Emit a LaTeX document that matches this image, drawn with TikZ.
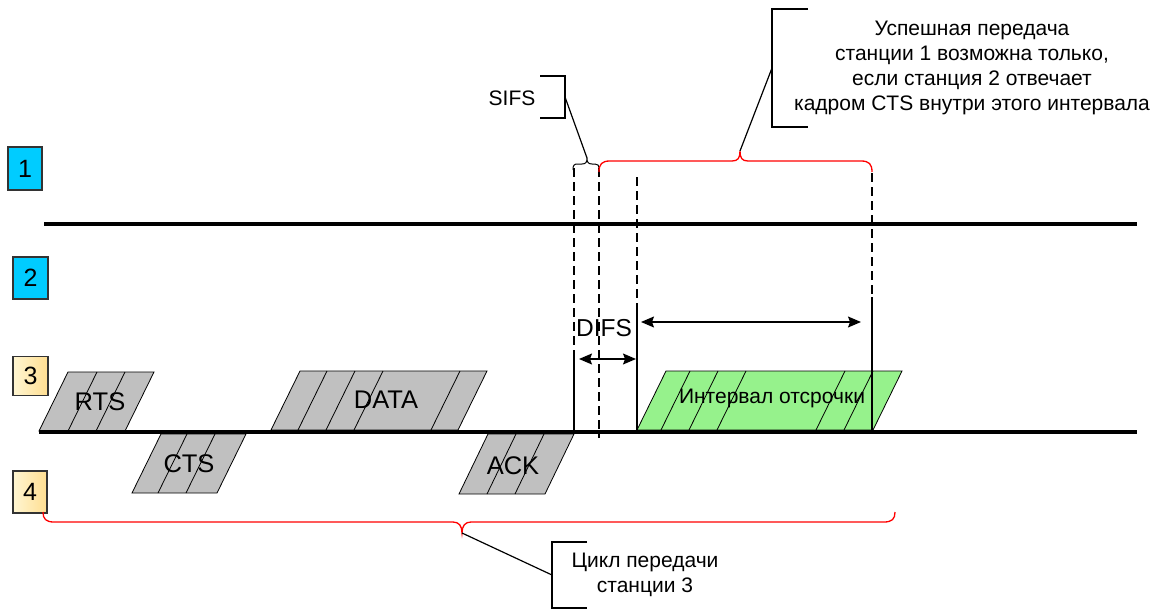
\documentclass[tikz,border=0pt]{standalone}
\usepackage{fontspec}
\setmainfont{Liberation Sans}
\usetikzlibrary{arrows.meta}

\definecolor{stcyan}{RGB}{0,204,255}
\definecolor{stpale}{RGB}{255,246,210}
\definecolor{stamber}{RGB}{255,222,145}
\definecolor{framegray}{RGB}{192,192,192}
\definecolor{backoff}{RGB}{150,242,140}
\definecolor{bracered}{RGB}{255,0,0}

\tikzset{
  stbox/.style={draw=black!80, line width=1.2pt, inner sep=0pt,
    font=\fontsize{25}{29}\selectfont},
  bluebox/.style={stbox, fill=stcyan},
  sandbox/.style={stbox, left color=stpale, right color=stamber},
  medium/.style={line width=4pt},
  framelabel/.style={font=\fontsize{25.5}{29}\selectfont, inner sep=0pt},
  smalllabel/.style={font=\fontsize{21}{25}\selectfont, inner sep=0pt, align=center},
  guide/.style={line width=1.2pt},
  guidedash/.style={line width=1.2pt, dash pattern=on 9pt off 5pt},
  twoway/.style={line width=1.2pt, {Stealth[length=13pt,width=11pt,inset=2pt]}-{Stealth[length=13pt,width=11pt,inset=2pt]}},
  callout/.style={line width=1.2pt},
  redbrace/.style={draw=bracered, line width=1.3pt},
}

% slanted frame: bottom-left x, bottom y, top y, width, fill, divider tops
\newcommand{\slab}[6]{%
  \filldraw[fill=#5, draw=black, line width=0.8pt]
    (#1,#2) -- ({#1+29},#3) -- ({#1+29+#4},#3) -- ({#1+#4},#2) -- cycle;
  \foreach \d in {#6} \draw[line width=0.8pt] (\d,#3) -- ({\d-29},#2);
}

\begin{document}
\begin{tikzpicture}[x=1pt, y=-1pt]
\useasboundingbox (0,0) rectangle (1160,610);

% stations
\node[bluebox, minimum width=34pt, minimum height=43pt] (s1) at (25,168.5) {1};
\node[bluebox, minimum width=35pt, minimum height=42pt] (s2) at (30.5,278) {2};
\node[sandbox, minimum width=35pt, minimum height=39pt] (s3) at (30.5,376) {3};
\node[sandbox, minimum width=34pt, minimum height=42pt] (s4) at (30,492) {4};

% frames on the medium
\slab{39}{431}{372}{86}{framegray}{97,125}
\slab{132}{493}{434}{85}{framegray}{187,215}
\slab{271}{430}{371}{187}{framegray}{327,355,383,460}
\slab{459}{494}{434}{86}{framegray}{516,544}
\slab{637}{430}{371}{236}{backoff}{690,718,746,845,873}

% the two media
\coordinate (m1a) at (44,224);  \coordinate (m1b) at (1137,224);
\coordinate (m2a) at (39,432);  \coordinate (m2b) at (1137,432);
\draw[medium] (m1a) -- (m1b);
\draw[medium] (m2a) -- (m2b);

% time marks
\coordinate (t1a) at (574,168); \coordinate (t1m) at (574,355); \coordinate (t1b) at (574,432);
\coordinate (t2a) at (599,168); \coordinate (t2b) at (599,438);
\coordinate (t3a) at (637,177); \coordinate (t3m) at (637,303); \coordinate (t3b) at (637,432);
\coordinate (t4a) at (872,173); \coordinate (t4m) at (872,297); \coordinate (t4b) at (872,432);
\draw[guidedash] (t1a) -- (t1m);
\draw[guide] (t1m) -- (t1b);
\draw[guidedash] (t2a) -- (t2b);
\draw[guidedash] (t3a) -- (t3m);
\draw[guide] (t3m) -- (t3b);
\draw[guidedash] (t4a) -- (t4m);
\draw[guide] (t4m) -- (t4b);

% intervals
\coordinate (difsL) at (579,359); \coordinate (difsR) at (636,359);
\draw[twoway] (difsL) -- (difsR);
\coordinate (bkL) at (641,322); \coordinate (bkR) at (861,322);
\draw[twoway] (bkL) -- (bkR);

% frame labels
\node[framelabel] (rts)  at (100,402) {RTS};
\node[framelabel] (cts)  at (189,464) {CTS};
\node[framelabel] (data) at (386,400) {DATA};
\node[framelabel] (ack)  at (513,466) {ACK};
\node[framelabel, font=\fontsize{24.5}{29}\selectfont] (difs) at (604,328) {DIFS};
\node[smalllabel] (bko)  at (772,398) {Интервал отсрочки};

% SIFS brace and callout
\coordinate (sifsTip) at (587,158);
\draw[line width=1pt] (573,170) .. controls (573,165) and (574,164) .. (578,164)
  -- (582,164) .. controls (586,164) and (587,162) .. (sifsTip)
  .. controls (587,162) and (588,164) .. (592,164) -- (595,164)
  .. controls (598,164) and (599,165) .. (599,170);
\coordinate (sifsHook) at (565,97);
\draw[callout] (540,76) -- (565,76) -- (565,118) -- (540,118);
\draw[callout] (sifsHook) -- (sifsTip);
\node[smalllabel] (sifs) at (512,98) {SIFS};

% CTS window brace and callout
\coordinate (winTip) at (740,151);
\draw[redbrace] (599,172) .. controls (599,164) and (602,161) .. (610,161)
  -- (732,161) .. controls (738,161) and (740,158) .. (winTip)
  .. controls (740,158) and (742,161) .. (748,161)
  -- (861,161) .. controls (869,161) and (872,164) .. (872,172);
\coordinate (winHook) at (772,68);
\draw[callout] (808,9) -- (772,9) -- (772,127) -- (808,127);
\draw[callout] (winHook) -- (winTip);
\node[smalllabel] (win) at (972,68) {Успешная передача\\станции 1 возможна только,\\если станция 2 отвечает\\кадром CTS внутри этого интервала};

% cycle brace and callout
\coordinate (cycTip) at (462,533);
\draw[redbrace] (43,512) .. controls (43,519) and (46,522) .. (54,522)
  -- (453,522) .. controls (459,522) and (462,526) .. (cycTip)
  .. controls (462,526) and (465,522) .. (471,522)
  -- (884,522) .. controls (892,522) and (895,519) .. (895,512);
\coordinate (cycHook) at (552,575);
\draw[callout] (587,542) -- (552,542) -- (552,608) -- (587,608);
\draw[callout] (cycTip) -- (cycHook);
\node[smalllabel] (cyc) at (645,575) {Цикл передачи\\станции 3};
\end{tikzpicture}
\end{document}
